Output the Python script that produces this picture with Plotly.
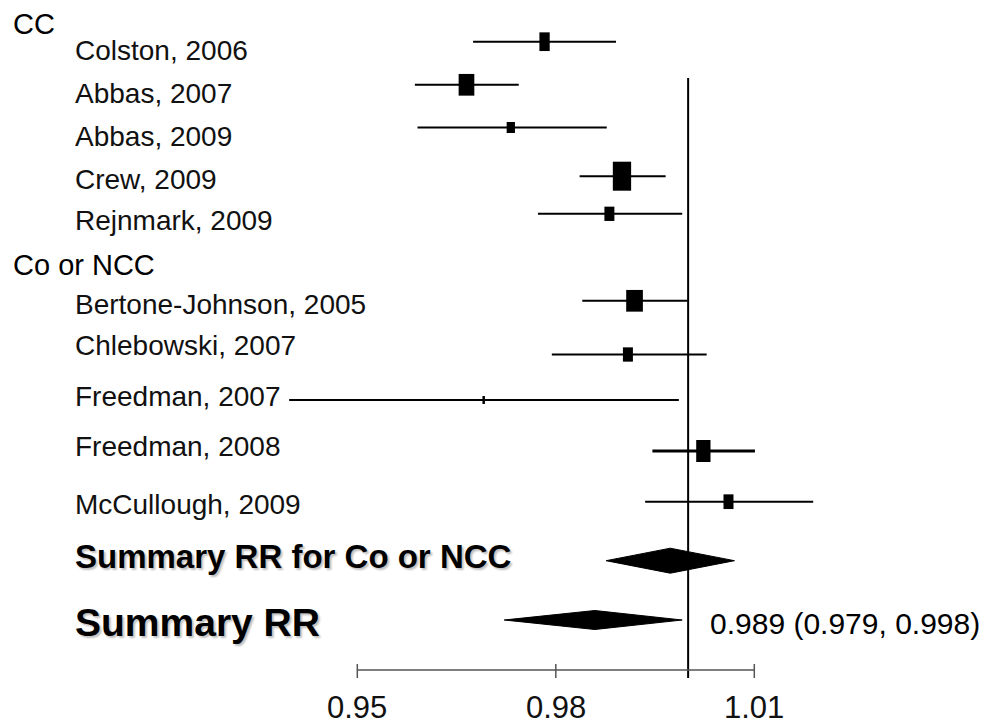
import plotly.graph_objects as go

# ---------------- data ----------------
studies = ["Colston, 2006", "Abbas, 2007", "Abbas, 2009", "Crew, 2009", "Rejnmark, 2009",
           "Bertone-Johnson, 2005", "Chlebowski, 2007", "Freedman, 2007", "Freedman, 2008",
           "McCullough, 2009"]
groups = ["CC", "CC", "CC", "CC", "CC",
          "Co or NCC", "Co or NCC", "Co or NCC", "Co or NCC", "Co or NCC"]
rr = [0.9783, 0.9665, 0.9732, 0.9900, 0.9881, 0.9919, 0.9909, 0.9691, 1.0023, 1.0061]
ci_lo = [0.9675, 0.9587, 0.9591, 0.9836, 0.9773, 0.9840, 0.9794, 0.9397, 0.9946, 0.9935]
ci_hi = [0.9891, 0.9744, 0.9877, 0.9966, 0.9991, 0.9999, 1.0028, 0.9986, 1.0101, 1.0189]

summary_labels = ["Summary RR for Co or NCC", "Summary RR"]
sum_rr = [0.9973, 0.9859]
sum_lo = [0.9876, 0.9722]
sum_hi = [1.0070, 0.9991]
summary_text = "0.989 (0.979, 0.998)"

tick_vals = [0.95, 0.98, 1.01]
tick_text = ["0.95", "0.98", "1.01"]
null_value = 1.0

# ---------------- layout / style ----------------
W, H = 989, 725
AX_PX = (357.3, 754.3)          # pixel positions of first/last tick
PPU = (AX_PX[1] - AX_PX[0]) / (tick_vals[-1] - tick_vals[0])
x_min = tick_vals[0] - AX_PX[0] / PPU
x_max = tick_vals[0] + (W - AX_PX[0]) / PPU
AXIS_Y = 670

row_y = [41.7, 84.8, 127.5, 176.2, 213.8, 300.8, 354.5, 400, 451, 501.7]
label_y = [50, 93, 136, 179, 220, 304, 345, 396, 446, 504]
header_y = {"CC": 24, "Co or NCC": 265}
box_w = [10.3, 15.7, 8.3, 18.3, 10, 16.7, 10, 2.5, 14.3, 10]
box_h = [18.7, 21.7, 11, 29, 14.3, 21.7, 14.3, 8, 22, 14.7]
line_w = [2, 2, 2, 2, 2, 2, 2, 2, 3, 2]
sum_y = [560.7, 620]
sum_half_h = [12.5, 9.5]
sum_label_y = [556, 622]
sum_font = [33, 39]

FONT = "Liberation Sans, Arial, sans-serif"

fig = go.Figure()

# CI lines
for i in range(len(studies)):
    fig.add_trace(go.Scatter(x=[ci_lo[i], ci_hi[i]], y=[row_y[i], row_y[i]], mode="lines",
                             line=dict(color="black", width=line_w[i]),
                             hoverinfo="skip", showlegend=False))

# boxes
shapes = []
for i in range(len(studies)):
    hw = box_w[i] / 2 / PPU
    shapes.append(dict(type="rect", xref="x", yref="y",
                       x0=rr[i] - hw, x1=rr[i] + hw,
                       y0=row_y[i] - box_h[i] / 2, y1=row_y[i] + box_h[i] / 2,
                       fillcolor="black", line=dict(width=0)))

# summary diamonds
for j in range(len(summary_labels)):
    fig.add_trace(go.Scatter(
        x=[sum_lo[j], sum_rr[j], sum_hi[j], sum_rr[j], sum_lo[j]],
        y=[sum_y[j], sum_y[j] - sum_half_h[j], sum_y[j], sum_y[j] + sum_half_h[j], sum_y[j]],
        mode="lines", fill="toself", fillcolor="black",
        line=dict(color="black", width=1), hoverinfo="skip", showlegend=False))

# null line
shapes.append(dict(type="line", xref="x", yref="y", x0=null_value, x1=null_value,
                   y0=78, y1=678, line=dict(color="black", width=2)))
# axis line
shapes.append(dict(type="line", xref="x", yref="y", x0=tick_vals[0], x1=tick_vals[-1],
                   y0=AXIS_Y, y1=AXIS_Y, line=dict(color="#555555", width=1.5)))
# tick marks (crossing the axis line)
for tv in tick_vals:
    shapes.append(dict(type="line", xref="x", yref="y", x0=tv, x1=tv,
                       y0=AXIS_Y - 6, y1=AXIS_Y + 8, line=dict(color="#555555", width=1.5)))

annotations = []
# headers
for g, yy in header_y.items():
    annotations.append(dict(text=g, xref="paper", yref="y", x=11 / W, y=yy,
                            xanchor="left", yanchor="middle", showarrow=False,
                            font=dict(family=FONT, size=29, color="black")))
# study labels
for i, s in enumerate(studies):
    annotations.append(dict(text=s, xref="paper", yref="y", x=73 / W, y=label_y[i],
                            xanchor="left", yanchor="middle", showarrow=False,
                            font=dict(family=FONT, size=28, color="#111111")))
# summary labels
for j, s in enumerate(summary_labels):
    annotations.append(dict(text="<b>" + s + "</b>", xref="paper", yref="y", x=73 / W,
                            y=sum_label_y[j], xanchor="left", yanchor="middle",
                            showarrow=False,
                            font=dict(family=FONT, size=sum_font[j], color="black",
                                      shadow="2px 2px 2px rgba(0,0,0,0.25)")))
# summary value text
annotations.append(dict(text=summary_text, xref="paper", yref="y", x=708 / W, y=623,
                        xanchor="left", yanchor="middle", showarrow=False,
                        font=dict(family=FONT, size=30, color="black")))
# tick labels
for tv, tt in zip(tick_vals, tick_text):
    annotations.append(dict(text=tt, xref="x", yref="y", x=tv, y=707,
                            xanchor="center", yanchor="middle", showarrow=False,
                            font=dict(family=FONT, size=31, color="#111111")))

fig.update_layout(
    width=W, height=H,
    margin=dict(l=0, r=0, t=0, b=0),
    paper_bgcolor="white", plot_bgcolor="white",
    xaxis=dict(range=[x_min, x_max], visible=False, fixedrange=True),
    yaxis=dict(range=[H, 0], visible=False, fixedrange=True),
    shapes=shapes, annotations=annotations, showlegend=False,
)

fig.write_html("out.html", config={"displayModeBar": False},
               post_script="document.body.style.margin='0px';")
